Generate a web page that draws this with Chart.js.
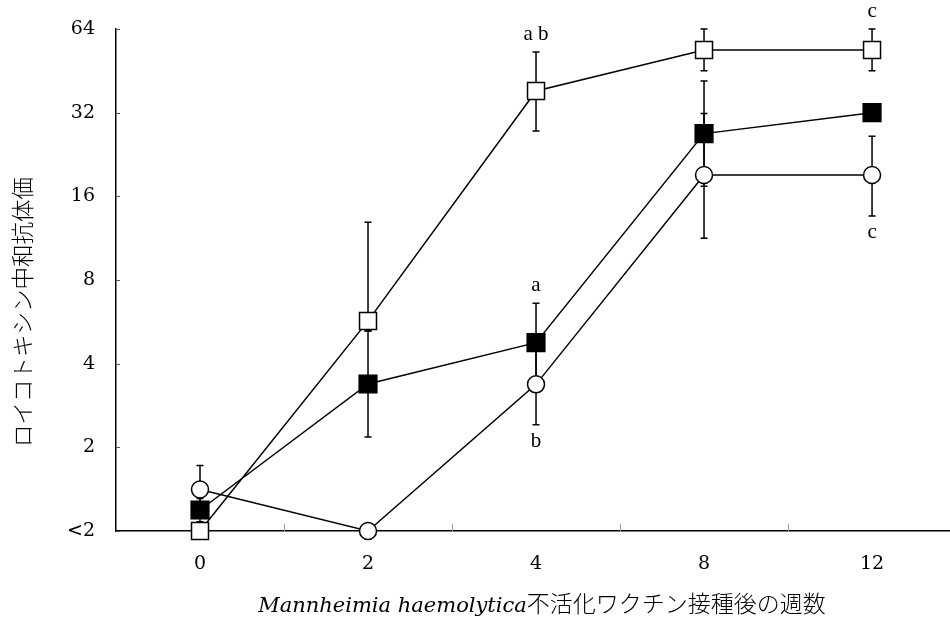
<!DOCTYPE html>
<html>
<head>
<meta charset="utf-8">
<script src="https://cdn.jsdelivr.net/npm/chart.js@4/dist/chart.umd.min.js"></script>
<style>
  html, body { margin: 0; padding: 0; background: #fff; }
  #wrap { width: 950px; height: 619px; }
</style>
</head>
<body>
<div id="wrap"><canvas id="c" width="950" height="619"></canvas></div>
<script>
// Weeks after vaccination (category labels on the x axis)
const weeks = ['0', '2', '4', '8', '12'];

// Titer ticks; "<2" is plotted at 1
const yTickValues = [1, 2, 4, 8, 16, 32, 64];
const yTickLabels = ['<2', '2', '4', '8', '16', '32', '64'];

// Group shown with open squares
const openSqMean = [1, 5.7, 38.3, 53.8, 53.8];
const openSqHigh = [null, 12.9, 52.9, 64, 64];
const openSqLow  = [null, 5.24, 27.5, 45.3, 45.3];

// Group shown with filled squares
const filledSqMean = [1.19, 3.38, 4.76, 26.9, 32];
const filledSqHigh = [1.31, 5.24, 6.6, 41.6, null];
const filledSqLow  = [1.08, 2.18, 3.43, 17.4, null];

// Group shown with open circles
const circleMean = [1.41, 1, 3.37, 19.1, 19.1];
const circleHigh = [1.72, null, 4.72, 31.8, 26.3];
const circleLow  = [1.16, null, 2.41, 11.3, 13.6];

// Significance letters: text, dataset index, point index, side of the error bar
const letterText    = ['a b', 'a', 'b', 'c', 'c'];
const letterDataset = [0, 1, 2, 0, 2];
const letterPoint   = [2, 2, 2, 4, 4];
const letterSide    = ['above', 'above', 'below', 'above', 'below'];

const yTitle = 'ロイコトキシン中和抗体価';
const xTitleItalic = 'Mannheimia haemolytica';
const xTitlePlain = '不活化ワクチン接種後の週数';

const NUM = '"DejaVu Serif", serif';
const LETTER = '"Liberation Serif", serif';
const JP = '"Noto Sans CJK JP", sans-serif';

function toPoints(values) {
  return values.map((v, i) => ({ x: i, y: v }));
}

const highs = [openSqHigh, filledSqHigh, circleHigh];
const lows  = [openSqLow, filledSqLow, circleLow];

const decorations = {
  id: 'decorations',
  beforeDatasetsDraw(chart) {
    // error bars sit behind the markers
    const { ctx, scales: { x, y } } = chart;
    ctx.save();
    ctx.strokeStyle = '#000';
    ctx.lineWidth = 1.5;
    highs.forEach((hiArr, d) => {
      const loArr = lows[d];
      hiArr.forEach((hi, i) => {
        const lo = loArr[i];
        if (hi == null || lo == null) return;
        const px = x.getPixelForValue(i);
        const yh = y.getPixelForValue(hi);
        const yl = y.getPixelForValue(lo);
        ctx.beginPath();
        ctx.moveTo(px, yh); ctx.lineTo(px, yl);
        ctx.moveTo(px - 3.5, yh); ctx.lineTo(px + 3.5, yh);
        ctx.moveTo(px - 3.5, yl); ctx.lineTo(px + 3.5, yl);
        ctx.stroke();
      });
    });
    ctx.restore();
  },
  afterDatasetsDraw(chart) {
    // significance letters above / below the error bars
    const { ctx, scales: { x, y } } = chart;
    ctx.save();
    ctx.fillStyle = '#000';
    ctx.font = '21px ' + LETTER;
    ctx.textAlign = 'center';
    ctx.textBaseline = 'alphabetic';
    letterText.forEach((t, k) => {
      const d = letterDataset[k], i = letterPoint[k];
      const px = x.getPixelForValue(i);
      if (letterSide[k] === 'above') {
        ctx.fillText(t, px, y.getPixelForValue(highs[d][i]) - 12);
      } else {
        ctx.fillText(t, px, y.getPixelForValue(lows[d][i]) + 22);
      }
    });
    ctx.restore();
  },
  afterDraw(chart) {
    const { ctx, chartArea, scales: { x, y } } = chart;
    ctx.save();
    // inward tick marks on the y axis
    ctx.strokeStyle = '#555';
    ctx.lineWidth = 1;
    yTickValues.forEach(v => {
      const py = Math.round(y.getPixelForValue(v)) + 0.5;
      ctx.beginPath();
      ctx.moveTo(chartArea.left, py); ctx.lineTo(chartArea.left + 4, py);
      ctx.stroke();
    });
    // short marks between the week categories
    ctx.strokeStyle = '#999';
    for (let i = 0; i < weeks.length - 1; i++) {
      const px = Math.round(x.getPixelForValue(i + 0.5)) + 0.5;
      ctx.beginPath();
      ctx.moveTo(px, chartArea.bottom); ctx.lineTo(px, chartArea.bottom - 7);
      ctx.stroke();
    }
    // y axis title
    ctx.fillStyle = '#000';
    ctx.font = '300 22.5px ' + JP;
    ctx.textAlign = 'center';
    ctx.textBaseline = 'middle';
    ctx.translate(22, 312);
    ctx.rotate(-Math.PI / 2);
    ctx.fillText(yTitle, 0, 0);
    ctx.setTransform(1, 0, 0, 1, 0, 0);
    // x axis title: italic species name followed by Japanese text
    ctx.textAlign = 'left';
    ctx.textBaseline = 'alphabetic';
    const fItal = 'italic 21px ' + NUM;
    const fJp = '300 23px ' + JP;
    ctx.font = fItal;
    const w1 = ctx.measureText(xTitleItalic).width;
    ctx.font = fJp;
    const w2 = ctx.measureText(xTitlePlain).width;
    const sx = 542 - (w1 + w2) / 2;
    ctx.font = fItal;
    ctx.fillText(xTitleItalic, sx, 612);
    ctx.font = fJp;
    ctx.fillText(xTitlePlain, sx + w1, 612);
    ctx.restore();
  }
};

const common = {
  borderColor: '#000',
  borderWidth: 1.5,
  pointBorderColor: '#000',
  pointBorderWidth: 1.5,
  showLine: true,
  tension: 0,
  clip: false
};

new Chart(document.getElementById('c'), {
  type: 'line',
  data: {
    datasets: [
      Object.assign({}, common, {
        label: 'open square',
        data: toPoints(openSqMean),
        pointStyle: 'rect', pointRadius: 12, pointHoverRadius: 12,
        pointBackgroundColor: '#fff'
      }),
      Object.assign({}, common, {
        label: 'filled square',
        data: toPoints(filledSqMean),
        pointStyle: 'rect', pointRadius: 12.5, pointHoverRadius: 12.5,
        pointBackgroundColor: '#000'
      }),
      Object.assign({}, common, {
        label: 'open circle',
        data: toPoints(circleMean),
        pointStyle: 'circle', pointRadius: 8.5, pointHoverRadius: 8.5,
        pointBackgroundColor: '#fff'
      })
    ]
  },
  options: {
    responsive: false,
    animation: false,
    events: [],
    layout: { autoPadding: false, padding: { top: 29, right: 0, bottom: 0, left: 0 } },
    plugins: { legend: { display: false }, tooltip: { enabled: false } },
    scales: {
      x: {
        type: 'linear',
        min: -0.5,
        max: 4.464,
        grid: { display: false },
        border: { display: true, color: '#000', width: 1.5 },
        afterBuildTicks(scale) { scale.ticks = weeks.map((_, i) => ({ value: i })); },
        afterFit(scale) { scale.height = 88; },
        ticks: {
          color: '#000',
          font: { family: NUM, size: 19 },
          padding: 14,
          maxRotation: 0,
          callback: (v) => weeks[v]
        }
      },
      y: {
        type: 'logarithmic',
        min: 1,
        max: 64,
        grid: { display: false },
        border: { display: true, color: '#000', width: 1.5 },
        afterBuildTicks(scale) { scale.ticks = yTickValues.map(v => ({ value: v })); },
        afterFit(scale) { scale.width = 116; },
        ticks: {
          color: '#000',
          font: { family: NUM, size: 19 },
          padding: 13,
          callback: (v) => yTickLabels[yTickValues.indexOf(v)]
        }
      }
    }
  },
  plugins: [decorations]
});
</script>
</body>
</html>
